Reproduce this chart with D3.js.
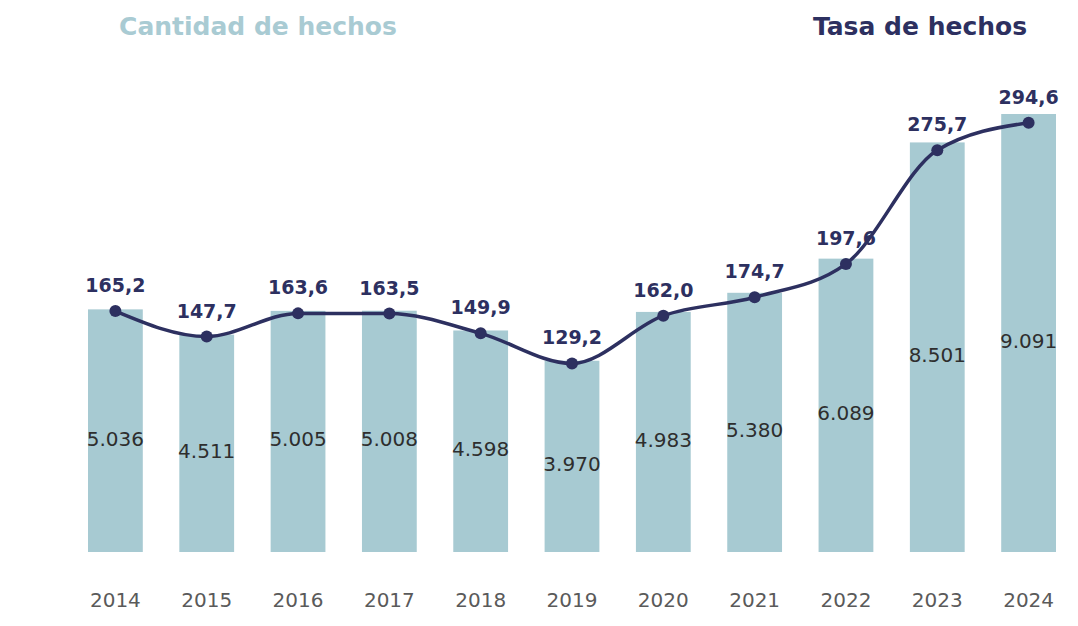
<!DOCTYPE html>
<html>
<head>
<meta charset="utf-8">
<script src="https://cdn.jsdelivr.net/npm/d3@7"></script>
<style>
  body { margin: 0; background: #fff; }
  svg { display: block; font-family: 'DejaVu Sans', sans-serif; }
</style>
</head>
<body>
<svg></svg>
<script>
const years = ['2014', '2015', '2016', '2017', '2018', '2019', '2020', '2021', '2022', '2023', '2024'];
const cantidad = [5036, 4511, 5005, 5008, 4598, 3970, 4983, 5380, 6089, 8501, 9091];
const tasa = [165.2, 147.7, 163.6, 163.5, 149.9, 129.2, 162.0, 174.7, 197.6, 275.7, 294.6];

const size = {w: 1078, h: 626};
const colors = {bar: '#a7cad2', line: '#2d3060', barText: '#2e2e2e', year: '#5a5a5a'};
const svg = d3.select('svg')
    .attr('width', size.w)
    .attr('height', size.h);

const fmtInt = d3.formatLocale({decimal: ',', thousands: '.', grouping: [3], currency: ['', '']}).format(',d');
const fmtDec = v => v.toFixed(1).replace('.', ',');

let x = d3.scaleBand()
    .domain(years)
    .range([88, 1056])
    .paddingInner(0.4)
    .paddingOuter(0);

let yBar = d3.scaleLinear()
    .domain([0, 9091])
    .range([552, 114]);

let yLine = d3.scaleLinear()
    .domain([0, 294.6])
    .range([551.5, 122.7]);

// titles
svg.append('text')
    .attr('x', 258).attr('y', 35)
    .attr('text-anchor', 'middle')
    .attr('font-size', 25).attr('font-weight', 'bold')
    .attr('fill', '#a9cbd3')
    .text('Cantidad de hechos');

svg.append('text')
    .attr('x', 920).attr('y', 35)
    .attr('text-anchor', 'middle')
    .attr('font-size', 25).attr('font-weight', 'bold')
    .attr('fill', colors.line)
    .text('Tasa de hechos');

// bars
svg.append('g')
    .selectAll('rect')
    .data(cantidad)
    .join('rect')
    .attr('x', (d, i) => x(years[i]))
    .attr('y', d => yBar(d))
    .attr('width', x.bandwidth())
    .attr('height', d => yBar(0) - yBar(d))
    .attr('fill', colors.bar);

svg.append('g')
    .selectAll('text')
    .data(cantidad)
    .join('text')
    .attr('x', (d, i) => x(years[i]) + x.bandwidth() / 2)
    .attr('y', d => (yBar(d) + yBar(0)) / 2 + 15)
    .attr('text-anchor', 'middle')
    .attr('font-size', 20)
    .attr('fill', colors.barText)
    .text(d => fmtInt(d));

// x axis labels
let xAxis = svg.append('g')
    .attr('transform', `translate(0, ${yBar(0)})`)
    .call(d3.axisBottom(x).tickSize(0).tickPadding(0));
xAxis.select('.domain').remove();
xAxis.selectAll('text')
    .attr('y', 55)
    .attr('dy', 0)
    .attr('font-size', 20)
    .attr('font-family', 'DejaVu Sans, sans-serif')
    .attr('fill', colors.year);

// line
let line = d3.line()
    .curve(d3.curveMonotoneX)
    .x((d, i) => x(years[i]) + x.bandwidth() / 2)
    .y(d => yLine(d));

svg.append('path')
    .datum(tasa)
    .attr('d', line)
    .attr('fill', 'none')
    .attr('stroke', colors.line)
    .attr('stroke-width', 3.5);

svg.append('g')
    .selectAll('circle')
    .data(tasa)
    .join('circle')
    .attr('cx', (d, i) => x(years[i]) + x.bandwidth() / 2)
    .attr('cy', d => yLine(d))
    .attr('r', 6)
    .attr('fill', colors.line);

svg.append('g')
    .selectAll('text')
    .data(tasa)
    .join('text')
    .attr('x', (d, i) => x(years[i]) + x.bandwidth() / 2)
    .attr('y', d => yLine(d) - 19)
    .attr('text-anchor', 'middle')
    .attr('font-size', 19)
    .attr('font-weight', 'bold')
    .attr('fill', colors.line)
    .text(d => fmtDec(d));
</script>
</body>
</html>
